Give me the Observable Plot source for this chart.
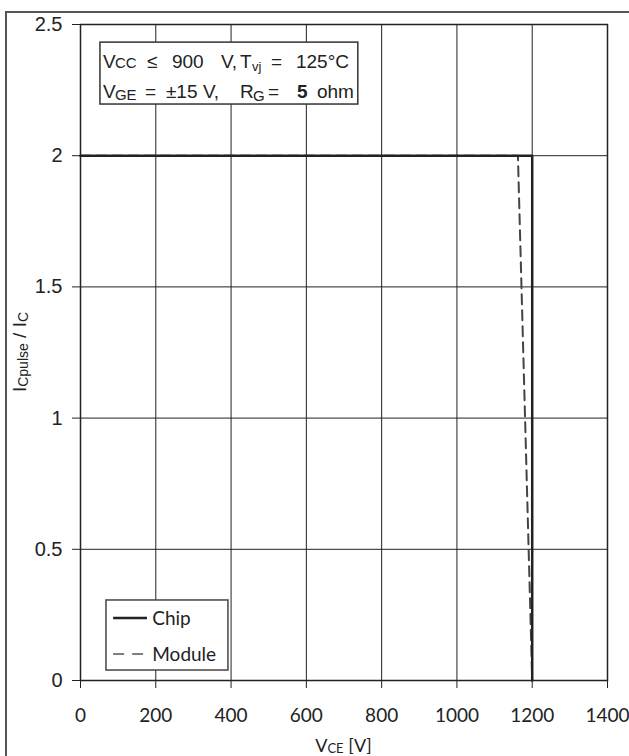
<!DOCTYPE html>
<html>
<head>
<meta charset="utf-8">
<script src="https://cdn.jsdelivr.net/npm/d3@7"></script>
<script src="https://cdn.jsdelivr.net/npm/@observablehq/plot@0.6"></script>
<style>
  html, body { margin: 0; padding: 0; background: #fff; }
  #chart { width: 629px; height: 756px; overflow: hidden; }
</style>
</head>
<body>
<div id="chart"></div>
<script>
// Data
const chipV = [0, 1200, 1200];
const chipI = [2, 2, 0];
const moduleV = [0, 1162, 1200];
const moduleI = [2, 2, 0];
const xTicks = [0, 200, 400, 600, 800, 1000, 1200, 1400];
const yTicks = [0, 0.5, 1, 1.5, 2, 2.5];
const seriesNames = ["Chip", "Module"];

const chip = chipV.map((v, i) => ({v, i: chipI[i]}));
const mod = moduleV.map((v, i) => ({v, i: moduleI[i]}));

const plot = Plot.plot({
  width: 629,
  height: 756,
  marginLeft: 80,
  marginRight: 22,
  marginTop: 24,
  marginBottom: 76,
  x: {domain: [0, 1400]},
  y: {domain: [0, 2.5]},
  style: {fontFamily: "Liberation Sans, Arial, sans-serif", background: "#fff", color: "#222"},
  marks: [
    Plot.gridX(xTicks, {stroke: "#222", strokeOpacity: 1, strokeWidth: 1}),
    Plot.gridY(yTicks, {stroke: "#222", strokeOpacity: 1, strokeWidth: 1}),
    Plot.frame({stroke: "#222", strokeWidth: 1.5}),
    Plot.axisX(xTicks, {tickSize: 8, tickPadding: 20, fontSize: 19, label: null, tickFormat: d => String(d), fontFamily: "Lato, sans-serif", stroke: "#222"}),
    Plot.axisY(yTicks, {tickSize: 8, tickPadding: 10, fontSize: 20, label: null, tickFormat: d => String(d), stroke: "#222"}),
    Plot.line(mod, {x: "v", y: "i", stroke: "#444", strokeWidth: 2, strokeDasharray: "10,6"}),
    Plot.line(chip, {x: "v", y: "i", stroke: "#222", strokeWidth: 2.5})
  ]
});

document.getElementById("chart").appendChild(plot);

const svg = d3.select(plot);
const x = plot.scale("x").apply, y = plot.scale("y").apply;

// outer border
svg.append("path")
  .attr("d", `M6,756V12H629`)
  .attr("fill", "none").attr("stroke", "#555").attr("stroke-width", 2);

// annotation box
const ann = svg.append("g").attr("font-family", "Liberation Sans, Arial, sans-serif").attr("font-size", 19)
  .attr("fill", "#222").attr("text-anchor", "start");
const bx = x(53), by = y(2.431);
ann.append("rect")
  .attr("x", bx).attr("y", by)
  .attr("width", x(738) - bx).attr("height", y(2.195) - by)
  .attr("fill", "#fff").attr("stroke", "#333").attr("stroke-width", 1.5);

function line(yy, parts) {
  const te = ann.append("text").attr("y", yy);
  for (const p of parts) {
    const ts = te.append("tspan").text(p.t).attr("x", bx + p.x).attr("y", yy + (p.dy || 0));
    if (p.fs) ts.attr("font-size", p.fs);
    if (p.fw) ts.attr("font-weight", p.fw);
  }
}
line(by + 26, [
  {t: "V", x: 3}, {t: "CC", x: 15, fs: 15},
  {t: "≤", x: 47}, {t: "900", x: 72}, {t: "V,", x: 121}, {t: "T", x: 140},
  {t: "vj", x: 152, fs: 13, dy: 3}, {t: "=", x: 171}, {t: "125°C", x: 196}
]);
line(by + 56, [
  {t: "V", x: 3}, {t: "GE", x: 15, fs: 15, dy: 2},
  {t: "=", x: 45}, {t: "±15", x: 66}, {t: "V,", x: 103}, {t: "R", x: 140},
  {t: "G", x: 153, fs: 15, dy: 3}, {t: "=", x: 168}, {t: "5", x: 197, fw: "bold"}, {t: "ohm", x: 217}
]);

// legend
const lg = svg.append("g").attr("font-family", "Lato, sans-serif").attr("font-size", 19)
  .attr("fill", "#222").attr("text-anchor", "start");
lg.append("rect")
  .attr("x", x(69)).attr("y", y(0.305))
  .attr("width", x(393) - x(69)).attr("height", y(0.038) - y(0.305))
  .attr("fill", "#fff").attr("stroke", "#444").attr("stroke-width", 1.5);
lg.append("line").attr("x1", x(88)).attr("x2", x(178)).attr("y1", y(0.236)).attr("y2", y(0.236))
  .attr("stroke", "#222").attr("stroke-width", 2.5);
lg.append("line").attr("x1", x(88)).attr("x2", x(178)).attr("y1", y(0.099)).attr("y2", y(0.099))
  .attr("stroke", "#555").attr("stroke-width", 1.5).attr("stroke-dasharray", "11,8");
lg.append("text").attr("x", x(192)).attr("y", y(0.236)).attr("dy", "0.35em").text(seriesNames[0]);
lg.append("text").attr("x", x(192)).attr("y", y(0.099)).attr("dy", "0.35em").text(seriesNames[1]);

// axis labels
{
  const te = svg.append("text").attr("transform", `translate(26,${y(1.25)}) rotate(-90)`)
    .attr("text-anchor", "middle").attr("font-family", "Liberation Sans, Arial, sans-serif")
    .attr("font-size", 19).attr("fill", "#222").attr("xml:space", "preserve");
  te.append("tspan").text("I");
  te.append("tspan").text("Cpulse").attr("font-size", 14).attr("dy", 2);
  te.append("tspan").text(" / I").attr("dy", -2);
  te.append("tspan").text("C").attr("font-size", 14).attr("dy", 2);
}
{
  const te = svg.append("text").attr("x", x(700)).attr("y", 752)
    .attr("text-anchor", "middle").attr("font-family", "Lato, sans-serif")
    .attr("font-size", 18).attr("fill", "#222").attr("xml:space", "preserve");
  te.append("tspan").text("V");
  te.append("tspan").text("CE").attr("font-size", 13).attr("dy", 1);
  te.append("tspan").text(" [V]").attr("dy", -1);
}
</script>
</body>
</html>
